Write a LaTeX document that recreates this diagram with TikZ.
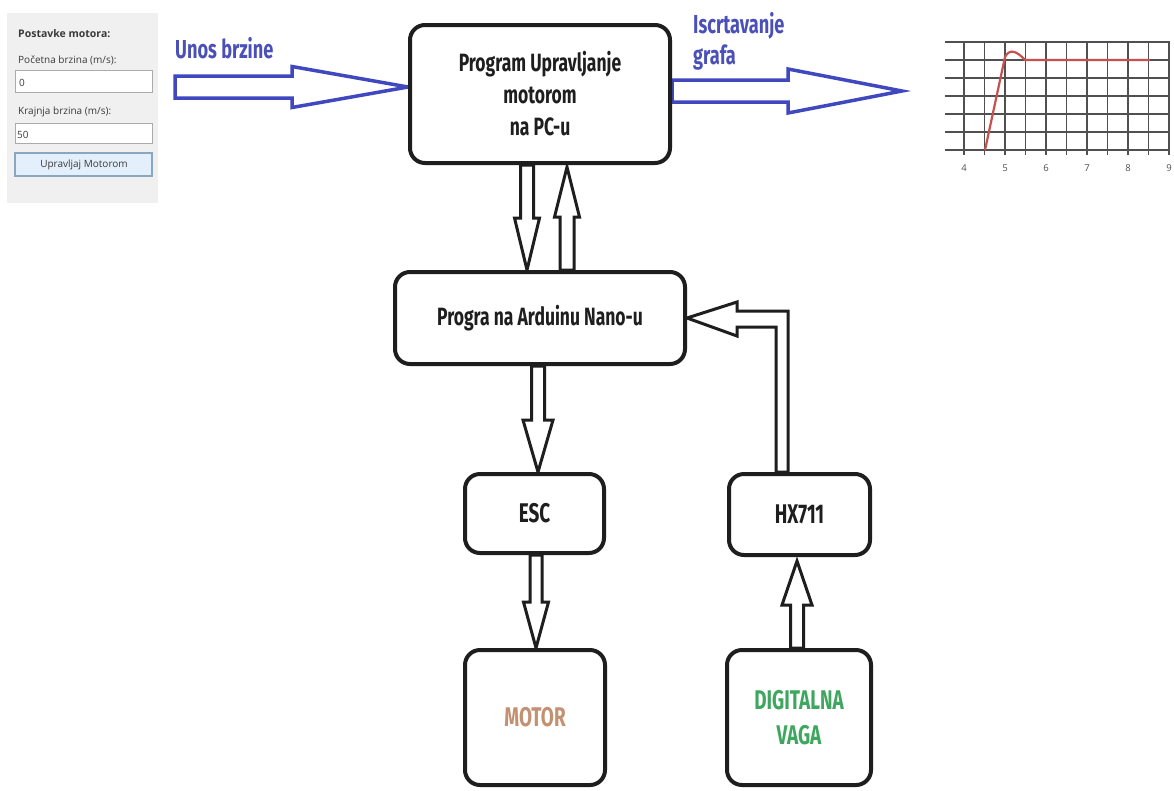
\documentclass[tikz,border=0pt]{standalone}
\usepackage{fontspec}
\usetikzlibrary{calc,backgrounds}
\newfontfamily\condf[FakeStretch=0.7]{Fira Sans}
\newfontfamily\uif{Open Sans}
\definecolor{blk}{HTML}{1E1E1E}
\definecolor{arrblue}{HTML}{4048C0}
\definecolor{txtblue}{HTML}{4A50B8}
\definecolor{motorc}{HTML}{C39172}
\definecolor{vagac}{HTML}{3EA65E}
\definecolor{panelbg}{HTML}{F0F0F0}
\definecolor{btnfill}{HTML}{E3F0FB}
\definecolor{btndraw}{HTML}{8AA6C0}
\definecolor{tbdraw}{HTML}{ABABAB}
\definecolor{gridc}{HTML}{505050}
\definecolor{curvec}{HTML}{C8504E}
\definecolor{uitext}{HTML}{3A3A3A}
\newcommand\hollowarr[6]{%
  \coordinate (hC) at ($(#3)!#6!(#2)$);
  \draw[#1] ($(#2)!#4!90:(#3)$) -- ($(hC)!#4!90:(#3)$) -- ($(hC)!#5!90:(#3)$) -- (#3)
    -- ($(hC)!#5!-90:(#3)$) -- ($(hC)!#4!-90:(#3)$) -- ($(#2)!#4!-90:(#3)$) -- cycle;}
\begin{document}
\begin{tikzpicture}[x=1pt,y=-1pt,
  box/.style={draw=blk, line width=4pt, rounded corners=15pt, fill=white, inner sep=0pt,
    font=\condf\bfseries\fontsize{25}{32}\selectfont, text=blk, align=center},
  sbox/.style={box, font=\condf\bfseries\fontsize{27}{35}\selectfont},
  harr/.style={draw=blk, line width=3pt, fill=white, line join=miter},
  barr/.style={draw=arrblue, line width=3.5pt, fill=white, line join=miter},
  blab/.style={font=\condf\bfseries\fontsize{26}{30}\selectfont, text=txtblue, inner sep=0pt, anchor=base west},
  uilab/.style={font=\uif\fontsize{10}{12}\selectfont, text=uitext, inner sep=0pt, anchor=base west},
  tbox/.style={draw=tbdraw, line width=1pt, fill=white},
  axlab/.style={font=\uif\fontsize{9.5}{11}\selectfont, text=gridc, inner sep=0pt},
  gline/.style={draw=gridc, line width=1.3pt}
]
\useasboundingbox (0,0) rectangle (1174,790);

% boxes
\node[box, minimum width=260pt, minimum height=138pt] (pc) at (540,94)
  {Program Upravljanje\\motorom\\na PC-u};
\node[box, minimum width=290pt, minimum height=92pt] (ard) at (540,318)
  {Progra na Arduinu Nano-u};
\node[sbox, minimum width=139pt, minimum height=79pt] (esc) at (534.5,513.5) {ESC};
\node[sbox, minimum width=141pt, minimum height=81pt] (hx) at (799.5,514.5) {HX711};
\node[sbox, minimum width=140pt, minimum height=135pt, text=motorc] (mot) at (535,717.5) {MOTOR};
\node[sbox, minimum width=144pt, minimum height=135pt, text=vagac] (vaga) at (799,717.5) {DIGITALNA\\VAGA};

% blue labels
\node[blab] (unos) at (175,58) {Unos brzine};
\node[blab] (iscr) at (693,33) {Iscrtavanje};
\node[blab] (graf) at (693,64) {grafa};

\coordinate (unosstart) at (175,87);
\coordinate (grafend) at (902,91);

\begin{scope}[on background layer]
  \fill[white] (0,0) rectangle (1174,790);
  % PC <-> Arduino
  \coordinate (a1s) at (527,0 |- pc.south);
  \coordinate (a1e) at (527,0 |- ard.north);
  \hollowarr{harr}{a1s}{a1e}{6.5pt}{12.5pt}{52pt}
  \coordinate (a2s) at (567,0 |- ard.north);
  \coordinate (a2e) at (567,167);
  \hollowarr{harr}{a2s}{a2e}{7pt}{12.5pt}{50pt}
  % Arduino -> ESC
  \coordinate (a3s) at (538,0 |- ard.south);
  \coordinate (a3e) at (538,0 |- esc.north);
  \hollowarr{harr}{a3s}{a3e}{6.5pt}{15pt}{52pt}
  % ESC -> MOTOR
  \coordinate (a4s) at (536,0 |- esc.south);
  \coordinate (a4e) at (536,0 |- mot.north);
  \hollowarr{harr}{a4s}{a4e}{6pt}{12.5pt}{46pt}
  % VAGA -> HX711
  \coordinate (a5s) at (797,0 |- vaga.north);
  \coordinate (a5e) at (797,561);
  \hollowarr{harr}{a5s}{a5e}{6.5pt}{15pt}{44pt}
  % HX711 -> Arduino (elbow)
  \draw[harr] (776,0 |- hx.north) -- (776,327) -- (737,327) -- (737,336) -- (ard.east)
    -- (737,302) -- (737,311) -- (788,311) -- (788,0 |- hx.north) -- cycle;
  % blue arrows
  \hollowarr{barr}{unosstart}{pc.west |- unosstart}{11pt}{20.5pt}{116pt}
  \hollowarr{barr}{pc.east |- grafend}{grafend}{11pt}{22pt}{114pt}
\end{scope}

% left form panel
\fill[panelbg] (7,13) rectangle (158,203);
\node[uilab, font=\uif\bfseries\fontsize{10.5}{12}\selectfont] (p1) at (18,37) {Postavke motora:};
\node[uilab] (p2) at (18,63) {Početna brzina (m/s):};
\draw[tbox] (15,70) rectangle (152,92);
\node[uilab] (p3) at (19,86) {0};
\node[uilab] (p4) at (18,114) {Krajnja brzina (m/s):};
\draw[tbox] (15,123) rectangle (152,143);
\node[uilab] (p5) at (17,138) {50};
\draw[draw=btndraw, line width=1.2pt, fill=btnfill] (15,153) rectangle (152,176);
\node[uilab, anchor=center] (p6) at (84,165) {Upravljaj Motorom};

% graph
\foreach \yy in {42,60,78,96,114,132,150} {\draw[gline] (945,\yy) -- (1170,\yy);}
\foreach \k in {0,...,10} {\draw[gline] (964+20.5*\k,42) -- (964+20.5*\k,155);}
\foreach \t [count=\i from 0] in {4,...,9} {\node[axlab] (ax\t) at (964+41*\i,168) {\t};}
\draw[curvec, line width=2.2pt, line join=round] (985,150) -- (1005,57)
  .. controls (1009,49) and (1016,50) .. (1025,60) -- (1150,60);
\end{tikzpicture}
\end{document}
